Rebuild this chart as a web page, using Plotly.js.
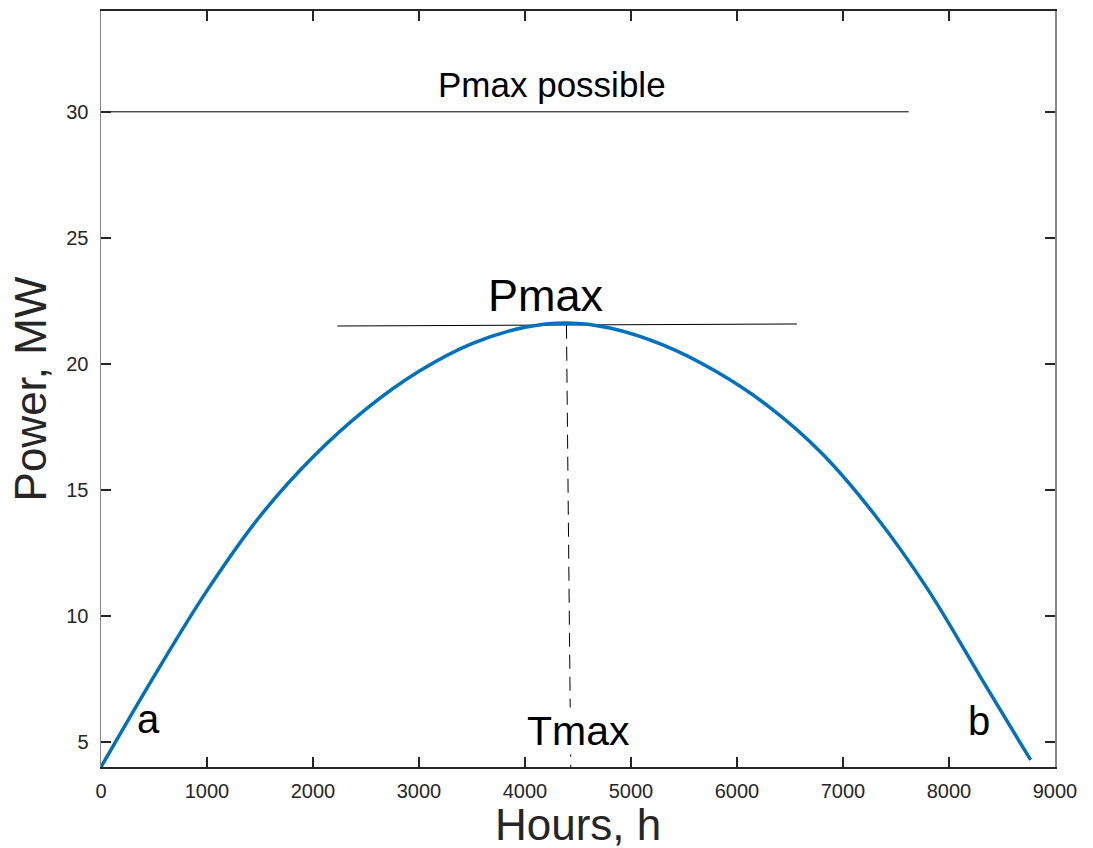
<!DOCTYPE html>
<html>
<head>
<meta charset="utf-8">
<script src="https://cdn.plot.ly/plotly-3.0.1.min.js"></script>
<style>html,body{margin:0;padding:0;background:#fff;}#chart{width:1093px;height:848px;}</style>
</head>
<body>
<div id="chart"></div>
<script>
// Power curve (hours, MW)
const hours = [0, 500, 1000, 1500, 2000, 2500, 3000, 3500, 4000, 4400, 4800, 5300, 5800, 6300, 6800, 7300, 7800, 8300, 8770];
const power = [4.0, 7.6, 11.0, 13.95, 16.3, 18.2, 19.7, 20.8, 21.45, 21.62, 21.42, 20.75, 19.7, 18.3, 16.45, 14.0, 11.05, 7.55, 4.28];

// Reference lines
const pmaxPossibleX = [0, 7620];
const pmaxPossibleY = [30, 30];
const pmaxLineX = [2230, 6565];
const pmaxLineY = [21.5, 21.58];
const tmaxLineX = [4391, 4432];
const tmaxLineY = [21.55, 4];

// Tick values
const xTicks = [0, 1000, 2000, 3000, 4000, 5000, 6000, 7000, 8000, 9000];
const yTicks = [5, 10, 15, 20, 25, 30];

// Text labels
const xTitle = 'Hours, h';
const yTitle = 'Power, MW';
const labels = [
  {text: 'Pmax possible', x: 4252, y: 31.07, size: 35},
  {text: 'Pmax', x: 4200, y: 22.72, size: 45},
  {text: 'Tmax', x: 4507, y: 5.43, size: 41, bg: true},
  {text: 'a', x: 447, y: 5.9, size: 40},
  {text: 'b', x: 8280, y: 5.83, size: 40}
];

const FONT = 'Liberation Sans, Arial, Helvetica, sans-serif';

const traces = [
  {x: pmaxPossibleX, y: pmaxPossibleY, mode: 'lines', line: {color: '#000', width: 1}, hoverinfo: 'skip'},
  {x: pmaxLineX, y: pmaxLineY, mode: 'lines', line: {color: '#000', width: 1}, hoverinfo: 'skip'},
  {x: tmaxLineX, y: tmaxLineY, mode: 'lines', line: {color: '#000', width: 1, dash: '14px,8px'}, hoverinfo: 'skip'},
  {x: hours, y: power, mode: 'lines', line: {color: '#0072BD', width: 3.5, shape: 'spline', smoothing: 1}}
];

const annotations = labels.map(l => ({
  text: l.text, x: l.x, y: l.y, xref: 'x', yref: 'y',
  showarrow: false, xanchor: 'center', yanchor: 'middle',
  font: {family: FONT, size: l.size, color: '#000'},
  bgcolor: l.bg ? '#ffffff' : 'rgba(0,0,0,0)', borderpad: 0
}));
// x-axis title placed as paper annotation so it can sit as low as in the reference
annotations.push({
  text: xTitle, xref: 'paper', yref: 'paper', x: 0.5, y: -0.0755,
  xanchor: 'center', yanchor: 'middle', showarrow: false, borderpad: 0,
  font: {family: FONT, size: 44, color: '#262626'}
});

const layout = {
  width: 1093, height: 848,
  margin: {l: 101, r: 38, t: 11, b: 81},
  paper_bgcolor: '#fff', plot_bgcolor: '#fff',
  showlegend: false,
  font: {family: FONT, color: '#262626'},
  xaxis: {
    range: [0, 9000], tickvals: xTicks, ticktext: xTicks.map(String),
    ticks: 'inside', ticklen: 10, tickwidth: 1.5, tickcolor: '#262626',
    showline: true, linecolor: '#262626', linewidth: 2, mirror: 'ticks',
    showgrid: false, zeroline: false, ticklabelstandoff: 5,
    tickfont: {size: 20, color: '#262626', family: FONT}
  },
  yaxis: {
    range: [4, 34], tickvals: yTicks, ticktext: yTicks.map(String),
    ticks: 'inside', ticklen: 10, tickwidth: 1.5, tickcolor: '#262626',
    showline: true, linecolor: '#888888', linewidth: 1.5, mirror: 'ticks',
    showgrid: false, zeroline: false, ticklabelstandoff: 7,
    tickfont: {size: 20, color: '#262626', family: FONT},
    title: {text: yTitle, font: {size: 44, color: '#262626', family: FONT}, standoff: 6}
  },
  annotations: annotations
};

Plotly.newPlot('chart', traces, layout, {staticPlot: true, displayModeBar: false});
</script>
</body>
</html>
